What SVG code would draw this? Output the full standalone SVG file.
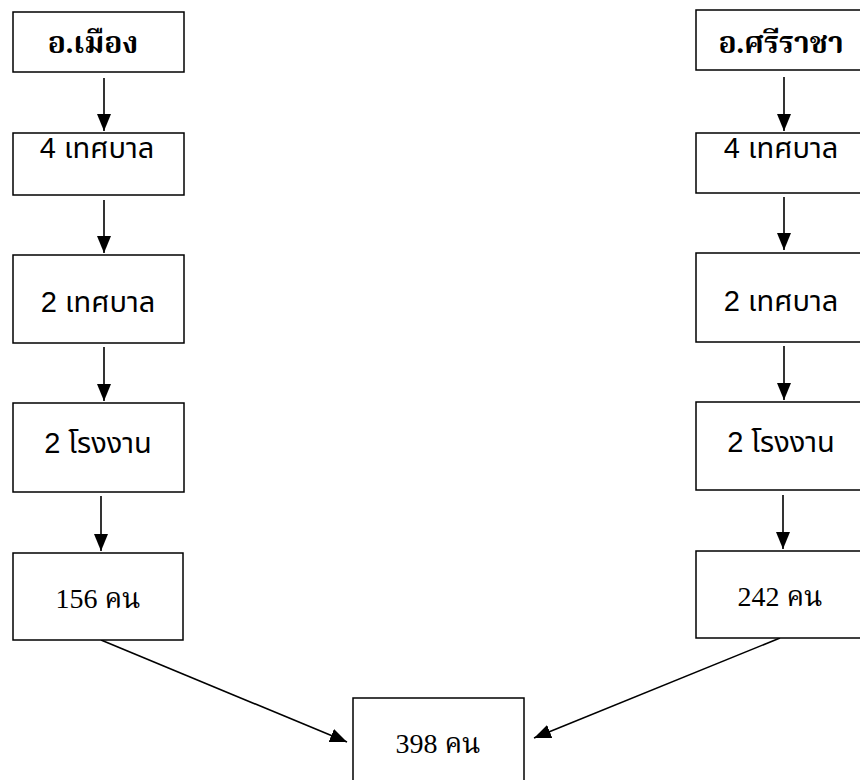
<svg xmlns="http://www.w3.org/2000/svg" width="860" height="780" viewBox="0 0 860 780">
<defs>
<style>
.box{fill:#fff;stroke:#000;stroke-width:1.5}
.t{font-family:"Liberation Sans","Noto Sans Thai","Noto Sans","DejaVu Sans",sans-serif;font-size:29px;text-anchor:middle;fill:#000}
.b{font-weight:bold;font-family:"Liberation Serif","Noto Serif Thai","Noto Sans Thai","DejaVu Serif",serif;font-size:30px}
.s{font-family:"Liberation Serif","Noto Serif Thai","Noto Sans Thai","DejaVu Serif",serif;font-size:28px}
.c{fill:none;stroke:#000;stroke-width:1.6}
</style>
<marker id="ah" viewBox="0 0 17 14" refX="17" refY="7" markerWidth="17" markerHeight="14" markerUnits="userSpaceOnUse" orient="auto">
<path d="M0,0 L17,7 L0,14 Z" fill="#000"/>
</marker>
</defs>
<rect width="860" height="780" fill="#fff"/>
<g id="connectors">
<line class="c" x1="104" y1="78" x2="104" y2="131" marker-end="url(#ah)"/>
<line class="c" x1="104" y1="200" x2="104" y2="253" marker-end="url(#ah)"/>
<line class="c" x1="104" y1="347" x2="104" y2="401" marker-end="url(#ah)"/>
<line class="c" x1="101" y1="496" x2="101" y2="551" marker-end="url(#ah)"/>
<line class="c" x1="101" y1="640" x2="347" y2="742" marker-end="url(#ah)"/>
<line class="c" x1="784" y1="77" x2="784" y2="131" marker-end="url(#ah)"/>
<line class="c" x1="784" y1="197" x2="784" y2="250" marker-end="url(#ah)"/>
<line class="c" x1="784" y1="346" x2="784" y2="400" marker-end="url(#ah)"/>
<line class="c" x1="783" y1="495" x2="783" y2="549" marker-end="url(#ah)"/>
<line class="c" x1="780" y1="638" x2="534" y2="738" marker-end="url(#ah)"/>
</g>
<g id="n_mueang"><rect class="box" x="13" y="12" width="171" height="60"/><text class="t b" x="93" y="53">อ.เมือง</text></g>
<g id="n_l4"><rect class="box" x="13" y="133" width="171" height="62"/><text class="t" x="97" y="158">4 เทศบาล</text></g>
<g id="n_l2"><rect class="box" x="13" y="255" width="171" height="88"/><text class="t" x="98" y="312">2 เทศบาล</text></g>
<g id="n_lf"><rect class="box" x="13" y="403" width="171" height="89"/><text class="t" x="98" y="453">2 โรงงาน</text></g>
<g id="n_l156"><rect class="box" x="13" y="553" width="170" height="87"/><text class="t s" x="98" y="608">156 คน</text></g>
<g id="n_sriracha"><rect class="box" x="696" y="10" width="171" height="60"/><text class="t b" x="781" y="53">อ.ศรีราชา</text></g>
<g id="n_r4"><rect class="box" x="696" y="133" width="171" height="60"/><text class="t" x="781" y="158">4 เทศบาล</text></g>
<g id="n_r2"><rect class="box" x="696" y="253" width="171" height="89"/><text class="t" x="781" y="311">2 เทศบาล</text></g>
<g id="n_rf"><rect class="box" x="696" y="402" width="171" height="88"/><text class="t" x="781" y="452">2 โรงงาน</text></g>
<g id="n_r242"><rect class="box" x="696" y="551" width="171" height="87"/><text class="t s" x="780" y="606">242 คน</text></g>
<g id="n_total"><rect class="box" x="353" y="698" width="171" height="88"/><text class="t s" x="438" y="753">398 คน</text></g>
</svg>
